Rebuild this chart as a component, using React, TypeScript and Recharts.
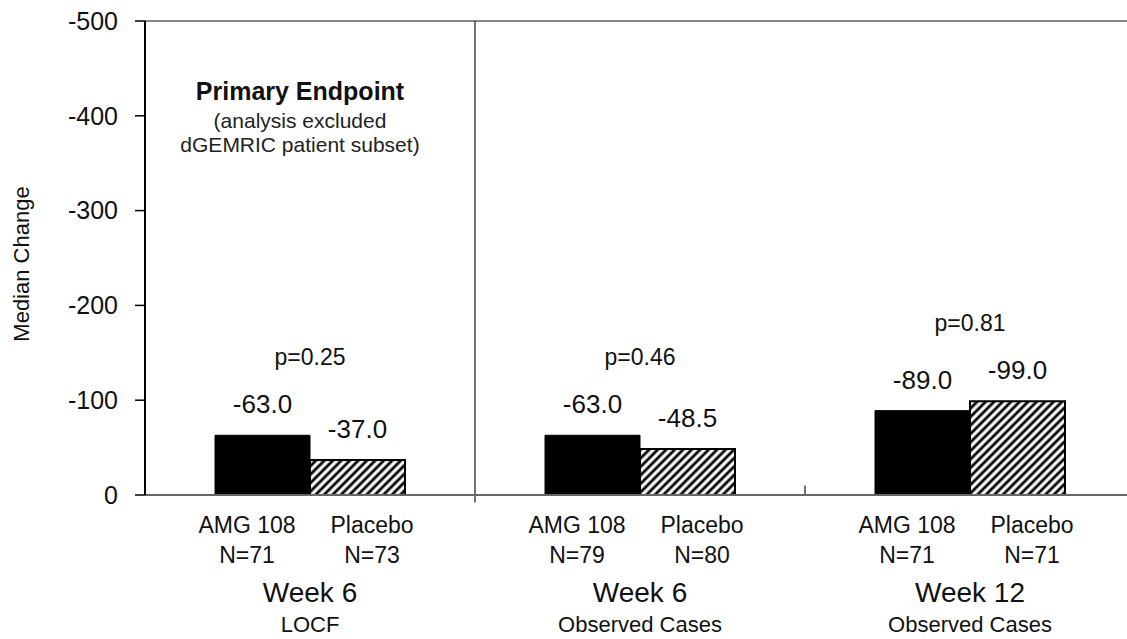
import React from "react";
import {
  Bar,
  BarChart,
  Customized,
  LabelList,
  ReferenceLine,
  XAxis,
  YAxis,
} from "recharts";

const FONT = "'Liberation Sans', Arial, Helvetica, sans-serif";

const groups = ["Week 6 LOCF", "Week 6 Observed Cases", "Week 12 Observed Cases"];
const weekLabels = ["Week 6", "Week 6", "Week 12"];
const analysisLabels = ["LOCF", "Observed Cases", "Observed Cases"];
const amgValues = [-63.0, -63.0, -89.0];
const placeboValues = [-37.0, -48.5, -99.0];
const amgN = [71, 79, 71];
const placeboN = [73, 80, 71];
const pValues = ["p=0.25", "p=0.46", "p=0.81"];
const yTicks = [0, -100, -200, -300, -400, -500];

const data = groups.map((g, i) => ({
  group: g,
  amg: amgValues[i],
  placebo: placeboValues[i],
  p: pValues[i],
}));

function box(props: any) {
  const vb = props.viewBox ?? props;
  const x = Number(vb.x);
  const y = Number(vb.y);
  const w = Number(vb.width);
  const h = Number(vb.height);
  return {
    x,
    w,
    top: Math.min(y, y + h),
    base: Math.max(y, y + h),
    absH: Math.abs(h),
  };
}

function ValueLabel(props: any) {
  const { x, w, top } = box(props);
  const v = Number(props.value);
  return (
    <text
      x={x + w / 2}
      y={top - 22}
      textAnchor="middle"
      fontSize={26}
      fill="#111"
      fontFamily={FONT}
    >
      {v.toFixed(1)}
    </text>
  );
}

// p-value sits above the taller bar of the pair, centred on the group
function PLabel(props: any) {
  const { x, w, base, absH } = box(props);
  const i = props.index ?? 0;
  const ppu = absH / Math.abs(amgValues[i]);
  const maxAbs = Math.max(Math.abs(amgValues[i]), Math.abs(placeboValues[i]));
  const top = base - maxAbs * ppu;
  return (
    <text
      x={x + w}
      y={top - 70}
      textAnchor="middle"
      fontSize={23}
      fill="#111"
      fontFamily={FONT}
    >
      {props.value}
    </text>
  );
}

function GroupTick(props: any) {
  const { x, y, payload } = props;
  const i = props.index ?? groups.indexOf(payload.value);
  return (
    <g fontFamily={FONT} fill="#111" textAnchor="middle">
      <text x={x - 63} y={y + 38} fontSize={23}>AMG 108</text>
      <text x={x + 62} y={y + 38} fontSize={23}>Placebo</text>
      <text x={x - 63} y={y + 68} fontSize={23}>N={amgN[i]}</text>
      <text x={x + 62} y={y + 68} fontSize={23}>N={placeboN[i]}</text>
      <text x={x} y={y + 107} fontSize={28}>{weekLabels[i]}</text>
      <text x={x} y={y + 137} fontSize={22}>{analysisLabels[i]}</text>
    </g>
  );
}

function Notes() {
  return (
    <g fontFamily={FONT} fill="#111" textAnchor="middle">
      <text x={23} y={264} fontSize={22} transform="rotate(-90 23 264)" dominantBaseline="middle">
        Median Change
      </text>
      <text x={300} y={100} fontSize={25} fontWeight="bold">Primary Endpoint</text>
      <text x={300} y={128} fontSize={21} fill="#222">(analysis excluded</text>
      <text x={300} y={152} fontSize={21} fill="#222">dGEMRIC patient subset)</text>
    </g>
  );
}

export default function App() {
  return (
    <div
      style={{
        position: "absolute",
        left: 0,
        top: 0,
        width: 1127,
        height: 639,
        overflow: "hidden",
        background: "#fff",
      }}
    >
      <svg width={0} height={0} style={{ position: "absolute" }}>
        <defs>
          <pattern
            id="hatch"
            patternUnits="userSpaceOnUse"
            width={6}
            height={6}
            patternTransform="rotate(45)"
          >
            <rect width={6} height={6} fill="#fff" />
            <line x1={3} y1={0} x2={3} y2={6} stroke="#000" strokeWidth={2.8} />
          </pattern>
        </defs>
      </svg>
      <BarChart
        width={1140}
        height={639}
        data={data}
        margin={{ top: 21, right: 5, bottom: 0, left: 0 }}
        barGap={0}
      >
        <XAxis
          dataKey="group"
          height={144}
          interval={0}
          tickLine={false}
          tickSize={0}
          tickMargin={0}
          axisLine={{ stroke: "#666", strokeWidth: 2 }}
          tick={<GroupTick />}
        />
        <YAxis
          width={145}
          reversed
          domain={[-500, 0]}
          ticks={yTicks}
          interval={0}
          tickSize={10}
          tickMargin={17}
          axisLine={{ stroke: "#000", strokeWidth: 2 }}
          tickLine={{ stroke: "#000", strokeWidth: 1.5 }}
          tick={{ fontSize: 25, fill: "#111", fontFamily: FONT }}
        />
        <ReferenceLine y={-500} stroke="#888" strokeWidth={2} ifOverflow="visible" />
        <ReferenceLine
          position="start"
          segment={[
            { x: groups[1], y: -500 },
            { x: groups[1], y: 8 },
          ]}
          stroke="#444"
          strokeWidth={1.5}
          ifOverflow="visible"
        />
        <ReferenceLine
          position="start"
          segment={[
            { x: groups[2], y: 0 },
            { x: groups[2], y: -10 },
          ]}
          stroke="#444"
          strokeWidth={1.5}
          ifOverflow="visible"
        />
        <Bar dataKey="amg" barSize={95} fill="#000" stroke="#000" strokeWidth={1} isAnimationActive={false}>
          <LabelList dataKey="amg" content={<ValueLabel />} />
          <LabelList dataKey="p" content={<PLabel />} />
        </Bar>
        <Bar
          dataKey="placebo"
          barSize={95}
          fill="url(#hatch)"
          stroke="#000"
          strokeWidth={2}
          isAnimationActive={false}
        >
          <LabelList dataKey="placebo" content={<ValueLabel />} />
        </Bar>
        <Customized component={Notes} />
      </BarChart>
    </div>
  );
}
